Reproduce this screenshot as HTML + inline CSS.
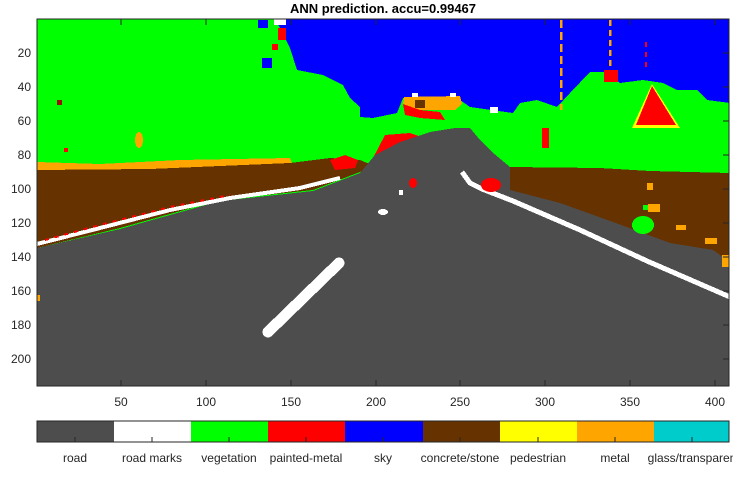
<!DOCTYPE html>
<html><head><meta charset="utf-8"><style>
html,body{margin:0;padding:0;background:#fff;}
svg{display:block;font-family:"Liberation Sans",Arial,sans-serif;}
</style></head><body>
<svg width="733" height="487" viewBox="0 0 733 487" xmlns="http://www.w3.org/2000/svg">
<defs><clipPath id="c"><rect x="37" y="19" width="692" height="367"/></clipPath></defs>
<text x="383" y="13" font-size="13" font-weight="bold" text-anchor="middle" fill="#000">ANN prediction. accu=0.99467</text>
<g clip-path="url(#c)" shape-rendering="crispEdges">
<rect x="37" y="19" width="692" height="367" fill="#00ff00"/>
<!-- sky -->
<polygon fill="#0000ff" points="272,19 730,19 730,103 707,100 697,90 677,90 663,83 643,80 620,83 607,72 590,72 570,93 557,107 537,100 520,103 513,113 470,107 460,100 403,98 397,113 373,118 360,117 360,107 350,98 343,85 323,75 297,70 290,48 280,28 275,19"/>
<!-- top-left bits -->
<rect x="258" y="20" width="10" height="8" fill="#0000ff"/>
<rect x="262" y="58" width="10" height="10" fill="#0000ff"/>
<rect x="278" y="28" width="8" height="12" fill="#ff0000"/>
<rect x="272" y="44" width="6" height="6" fill="#ff0000"/>
<rect x="274" y="19" width="12" height="6" fill="#fff"/>
<!-- car roof -->
<polygon fill="#ffa500" points="404,97 460,96 462,104 455,110 410,110 403,104"/>
<polygon fill="#ff0000" points="403,104 420,110 440,112 445,120 420,118 405,115"/>
<rect x="415" y="100" width="10" height="8" fill="#663300"/>
<rect x="412" y="93" width="6" height="4" fill="#fff"/>
<rect x="450" y="93" width="6" height="4" fill="#fff"/>
<rect x="490" y="107" width="8" height="6" fill="#fff"/>
<!-- poles -->
<line x1="561" y1="20" x2="561" y2="110" stroke="#ffa500" stroke-width="2.5" stroke-dasharray="8,4"/>
<line x1="610" y1="20" x2="610" y2="78" stroke="#ffa500" stroke-width="2.5" stroke-dasharray="6,4"/>
<line x1="646" y1="42" x2="646" y2="68" stroke="#ff0000" stroke-width="2" stroke-dasharray="5,5"/>
<rect x="604" y="70" width="14" height="12" fill="#ff0000"/>
<!-- sign -->
<polygon fill="#ffff00" points="652,84 632,128 680,128"/>
<polygon fill="#ff0000" points="652,86 636,125 676,125"/>
<rect x="542" y="128" width="7" height="20" fill="#ff0000"/>
<!-- left orange strip & blobs -->
<polygon fill="#ffa500" points="37,162 100,164 180,160 290,158 295,172 37,174"/>
<ellipse cx="139" cy="140" rx="4" ry="8" fill="#ffa500"/>
<rect x="57" y="100" width="5" height="5" fill="#991100"/>
<rect x="64" y="148" width="4" height="4" fill="#ff0000"/>
<!-- brown left -->
<polygon fill="#663300" points="37,170 150,169 290,163 330,158 360,160 372,165 360,172 313,190 220,200 120,228 37,248"/>
<!-- red/brown center -->
<polygon fill="#ff0000" points="372,160 385,135 410,133 430,140 432,155 412,160 395,158"/>
<polygon fill="#ffa500" points="412,145 428,142 440,150 425,155"/>
<polygon fill="#ff0000" points="330,160 345,155 358,160 355,168 335,170"/>
<!-- road -->
<polygon fill="#4d4d4d" points="37,248 120,229 220,201 313,191 360,173 375,155 400,142 430,132 455,128 470,128 480,140 492,152 510,167 510,190 560,203 613,222 670,243 713,250 730,262 730,386 37,386"/>
<!-- right brown -->
<polygon fill="#663300" points="510,167 600,168 650,171 730,173 730,262 713,250 670,243 613,222 560,203 510,190"/>
<ellipse cx="643" cy="225" rx="11" ry="9" fill="#00ff00"/>
<rect x="648" y="204" width="12" height="8" fill="#ffa500"/>
<rect x="647" y="183" width="6" height="7" fill="#ffa500"/>
<rect x="705" y="238" width="12" height="6" fill="#ffa500"/>
<rect x="676" y="225" width="10" height="5" fill="#ffa500"/>
<rect x="722" y="255" width="8" height="12" fill="#ffa500"/>
<rect x="643" y="205" width="5" height="5" fill="#00ff00"/>
<!-- white lines -->
<polyline fill="none" stroke="#fff" stroke-width="5" points="462,172 470,183 482,189 513,201 580,230 647,261 730,297"/>
<polyline fill="none" stroke="#fff" stroke-width="4" points="37,244 100,228 170,210 230,198 300,188 340,178"/>
<polyline fill="none" stroke="#ff0000" stroke-width="2" stroke-dasharray="4,6" points="45,240 100,225 170,207 230,195"/>
<line x1="268" y1="332" x2="339" y2="263" stroke="#fff" stroke-width="11" stroke-linecap="round"/>
<ellipse cx="383" cy="212" rx="5" ry="3" fill="#fff"/>
<rect x="399" y="190" width="4" height="5" fill="#fff"/>
<!-- red blob near right line -->
<ellipse cx="491" cy="185" rx="10" ry="7" fill="#ff0000"/>
<ellipse cx="413" cy="183" rx="4" ry="5" fill="#ff0000"/>
<rect x="37" y="295" width="3" height="6" fill="#ffa500"/>
</g>
<rect x="37" y="19" width="692" height="367" fill="none" stroke="#262626" stroke-width="1"/>
<g stroke="#262626" stroke-width="1">
<line x1="121" y1="386" x2="121" y2="380"/><line x1="206" y1="386" x2="206" y2="380"/><line x1="291" y1="386" x2="291" y2="380"/><line x1="376" y1="386" x2="376" y2="380"/><line x1="460" y1="386" x2="460" y2="380"/><line x1="545" y1="386" x2="545" y2="380"/><line x1="630" y1="386" x2="630" y2="380"/><line x1="715" y1="386" x2="715" y2="380"/>
<line x1="121" y1="19" x2="121" y2="25"/><line x1="206" y1="19" x2="206" y2="25"/><line x1="291" y1="19" x2="291" y2="25"/><line x1="376" y1="19" x2="376" y2="25"/><line x1="460" y1="19" x2="460" y2="25"/><line x1="545" y1="19" x2="545" y2="25"/><line x1="630" y1="19" x2="630" y2="25"/><line x1="715" y1="19" x2="715" y2="25"/>
<line x1="723" y1="53" x2="729" y2="53"/><line x1="723" y1="87" x2="729" y2="87"/><line x1="723" y1="121" x2="729" y2="121"/><line x1="723" y1="155" x2="729" y2="155"/><line x1="723" y1="189" x2="729" y2="189"/><line x1="723" y1="223" x2="729" y2="223"/><line x1="723" y1="257" x2="729" y2="257"/><line x1="723" y1="291" x2="729" y2="291"/><line x1="723" y1="325" x2="729" y2="325"/><line x1="723" y1="359" x2="729" y2="359"/>
</g>
<g font-size="12" fill="#262626" text-anchor="middle">
<text x="121" y="406">50</text><text x="206" y="406">100</text><text x="291" y="406">150</text><text x="376" y="406">200</text><text x="460" y="406">250</text><text x="545" y="406">300</text><text x="630" y="406">350</text><text x="715" y="406">400</text>
</g>
<g font-size="12" fill="#262626" text-anchor="end">
<text x="31" y="57">20</text><text x="31" y="91">40</text><text x="31" y="125">60</text><text x="31" y="159">80</text><text x="31" y="193">100</text><text x="31" y="227">120</text><text x="31" y="261">140</text><text x="31" y="295">160</text><text x="31" y="329">180</text><text x="31" y="363">200</text>
</g>
<!-- colorbar -->
<g shape-rendering="crispEdges">
<rect x="37" y="421" width="77" height="21" fill="#4d4d4d"/>
<rect x="114" y="421" width="77" height="21" fill="#ffffff"/>
<rect x="191" y="421" width="77" height="21" fill="#00ff00"/>
<rect x="268" y="421" width="77" height="21" fill="#ff0000"/>
<rect x="345" y="421" width="78" height="21" fill="#0000ff"/>
<rect x="423" y="421" width="77" height="21" fill="#663300"/>
<rect x="500" y="421" width="77" height="21" fill="#ffff00"/>
<rect x="577" y="421" width="77" height="21" fill="#ffa500"/>
<rect x="654" y="421" width="75" height="21" fill="#00cccc"/>
</g>
<rect x="37" y="421" width="692" height="21" fill="none" stroke="#262626" stroke-width="1"/>
<g stroke="#262626" stroke-width="1">
<line x1="75" y1="442" x2="75" y2="437"/><line x1="152" y1="442" x2="152" y2="437"/><line x1="229" y1="442" x2="229" y2="437"/><line x1="306" y1="442" x2="306" y2="437"/><line x1="383" y1="442" x2="383" y2="437"/><line x1="460" y1="442" x2="460" y2="437"/><line x1="538" y1="442" x2="538" y2="437"/><line x1="615" y1="442" x2="615" y2="437"/><line x1="692" y1="442" x2="692" y2="437"/>
</g>
<g font-size="12" fill="#262626" text-anchor="middle">
<text x="75" y="462">road</text><text x="152" y="462">road marks</text><text x="229" y="462">vegetation</text><text x="306" y="462">painted-metal</text><text x="383" y="462">sky</text><text x="460" y="462">concrete/stone</text><text x="538" y="462">pedestrian</text><text x="615" y="462">metal</text><text x="692" y="462">glass/transparen</text>
</g>
</svg>
</body></html>
